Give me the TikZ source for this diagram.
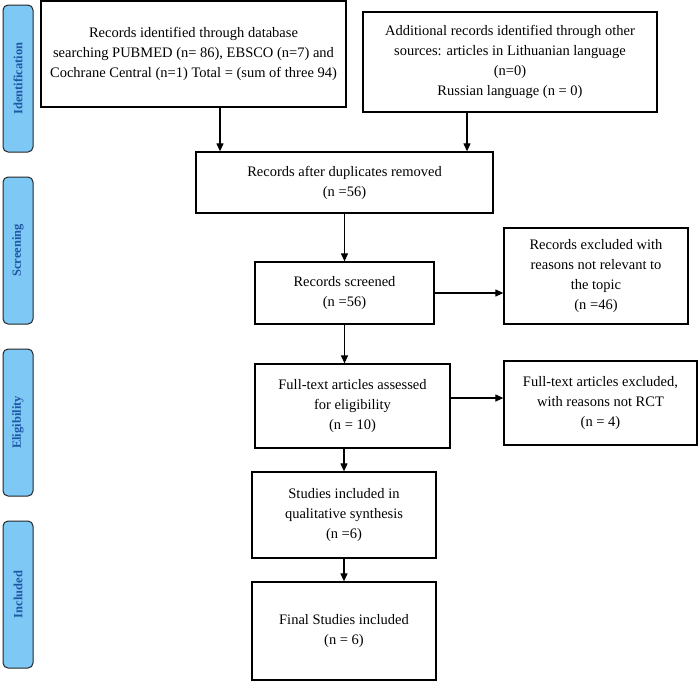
\documentclass[tikz,border=0pt]{standalone}
\usepackage{fontspec}
\setmainfont{Liberation Serif}
\usetikzlibrary{arrows.meta}
\definecolor{barblue}{HTML}{7EC8F5}
\definecolor{bartext}{HTML}{1F57A4}

\begin{document}
\begin{tikzpicture}[x=1pt, y=-1pt,
			flowbox/.style={draw, line width=1.3pt, inner sep=0pt, align=center, font=\fontsize{14.5}{20}\selectfont},
			phase/.style={draw=black!85, line width=1pt, fill=barblue, rounded corners=5pt, minimum width=147pt, minimum height=30pt, inner sep=0pt, text=bartext, rotate=90, font=\fontsize{12.5}{15}\selectfont\bfseries},
			flowarrow/.style={-{Triangle[length=8pt,width=7pt]}, line width=1.2pt}
		]
		\useasboundingbox (0,0) rectangle (698,681);

		\node[phase] (ident) at (18,78.5) {Identification};
		\node[phase] (screen) at (18,250.5) {Screening};
		\node[phase] (elig) at (18,422.5) {Eligibility};
		\node[phase] (incl) at (18,594.5) {Included};

		\node[flowbox, minimum width=305pt, minimum height=106pt] (records) at (193.5,54) {Records identified through database\\searching PUBMED (n= 86), EBSCO (n=7) and\\Cochrane Central (n=1) Total = (sum of three 94)};
		\node[flowbox, minimum width=294pt, minimum height=100pt] (other) at (510,62) {Additional records identified through other\\sources: articles in Lithuanian language\\(n=0)\\Russian language (n = 0)};
		\node[flowbox, minimum width=297pt, minimum height=61pt] (dups) at (344.5,182.5) {Records after duplicates removed\\(n =56)};
		\node[flowbox, minimum width=179pt, minimum height=62pt] (screened) at (344.5,293) {Records screened\\(n =56)};
		\node[flowbox, minimum width=184pt, minimum height=96pt] (excl) at (596,276) {Records excluded with\\reasons not relevant to\\the topic\\(n =46)};
		\node[flowbox, minimum width=195pt, minimum height=84pt] (assessed) at (352.5,406) {Full-text articles assessed\\for eligibility\\(n = 10)};
		\node[flowbox, minimum width=193pt, minimum height=84pt] (ftexcl) at (600.5,403) {Full-text articles excluded,\\with reasons not RCT\\(n = 4)};
		\node[flowbox, minimum width=184pt, minimum height=86pt] (quali) at (344,515) {Studies included in\\qualitative synthesis\\(n =6)};
		\node[flowbox, minimum width=184pt, minimum height=98pt] (final) at (344,631) {Final Studies included\\(n = 6)};

		\coordinate (left) at (220,0);
		\coordinate (right) at (467,0);
		\coordinate (mid) at (344.5,0);
		\coordinate (side) at (0,398);

		\draw[flowarrow] (records.south -| left) -- (dups.north -| left);
		\draw[flowarrow] (other.south -| right) -- (dups.north -| right);
		\draw[flowarrow] (dups.south) -- (screened.north);
		\draw[flowarrow] (screened.east) -- (excl.west |- screened.east);
		\draw[flowarrow] (screened.south) -- (assessed.north -| mid);
		\draw[flowarrow] (assessed.east |- side) -- (ftexcl.west |- side);
		\draw[flowarrow] (assessed.south -| quali.north) -- (quali.north);
		\draw[flowarrow] (quali.south) -- (final.north);

	\end{tikzpicture}
\end{document}
